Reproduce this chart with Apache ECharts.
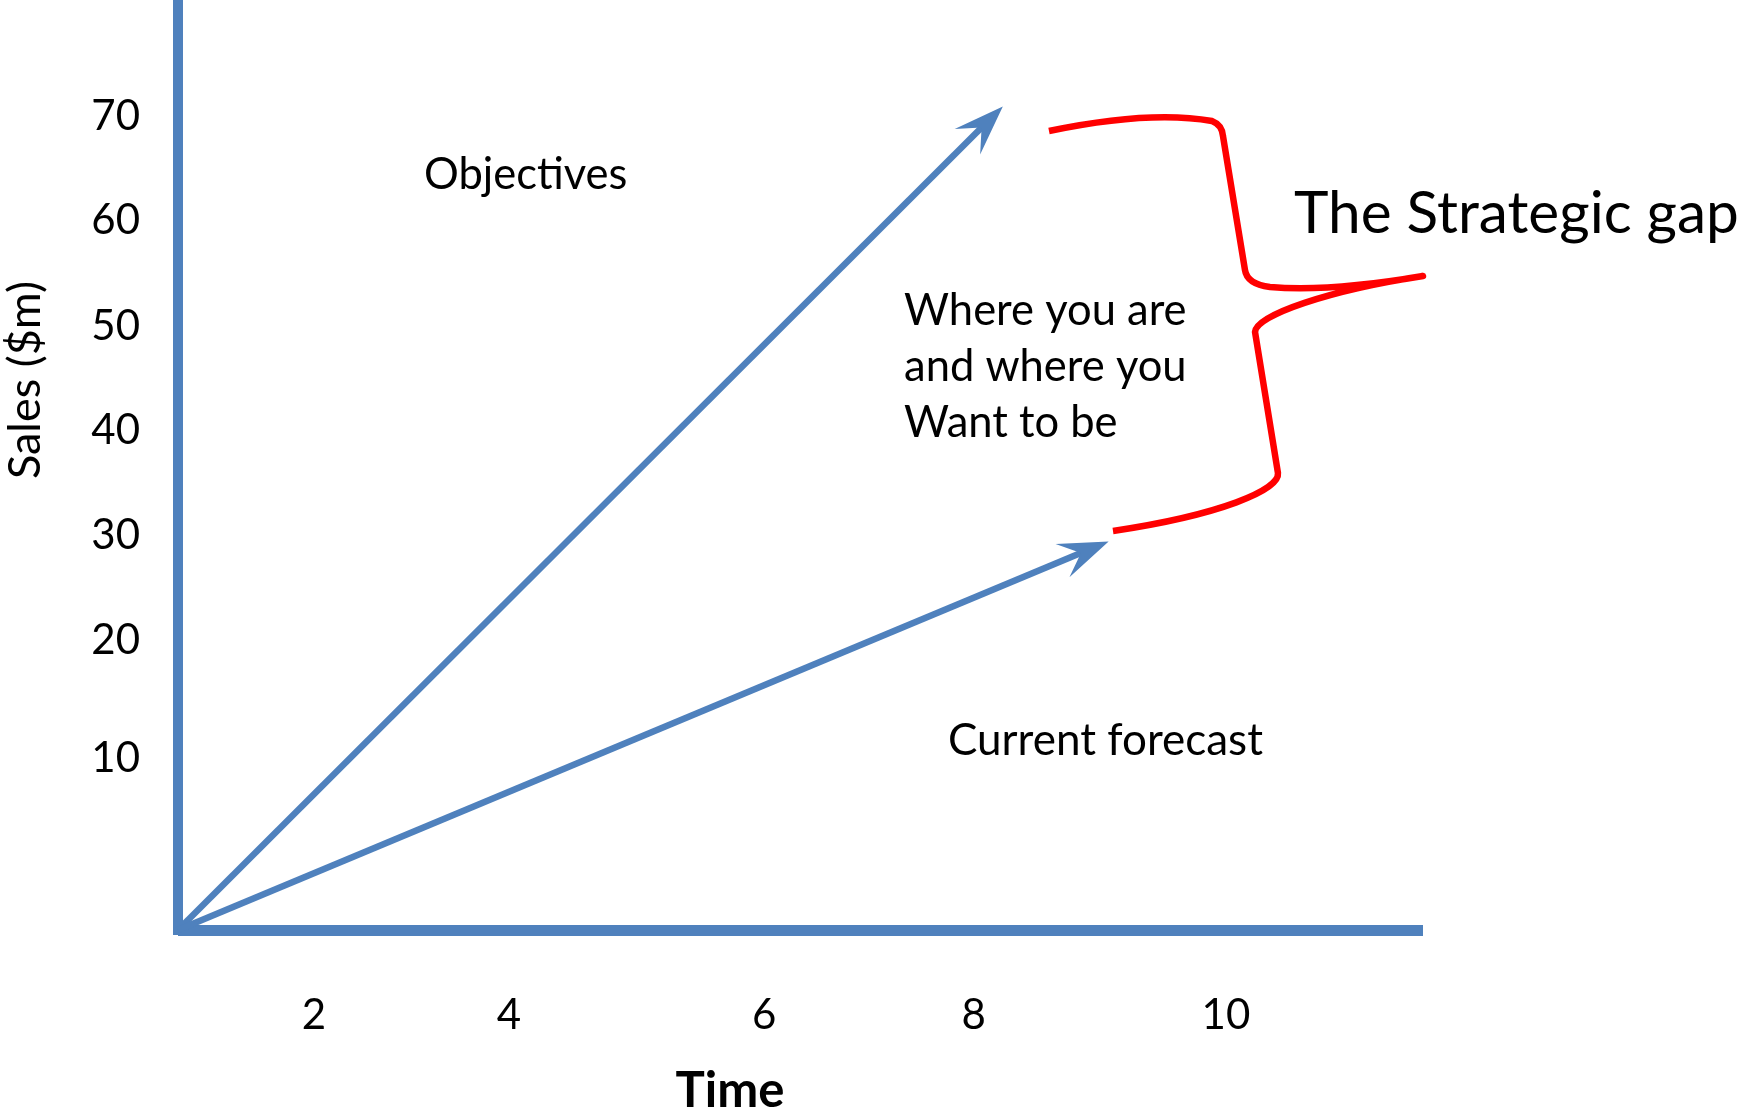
<!DOCTYPE html>
<html>
<head>
<meta charset="utf-8">
<title>The Strategic gap</title>
<script src="https://cdn.jsdelivr.net/npm/echarts@6/dist/echarts.min.js"></script>
<style>
  html, body { margin: 0; padding: 0; background: #ffffff; }
  #chart { width: 1737px; height: 1116px; }
</style>
</head>
<body>
<div id="chart"></div>
<script>
// Time axis labels and where each one sits along the axis
const xTickText = ['2', '4', '6', '8', '10'];
const xTickAt = [1.31, 3.19, 5.65, 7.67, 10.10];

// Sales axis labels ($m) and where each one sits along the axis
const yTickText = ['10', '20', '30', '40', '50', '60', '70'];
const yTickAt = [14.83, 25.0, 34.05, 43.1, 52.07, 61.2, 70.17];

// Trajectories: start and end as [time, sales]
const objectivesPath = [[0, 0], [7.95, 71.0]];
const forecastPath = [[0, 0], [8.97, 33.5]];

// Curly brace spanning the gap, as path commands in [time, sales] units
const gapBrace = [
  ['M', [8.395, 68.88]],
  ['Q', [9.369, 70.69], [9.966, 69.74]],
  ['Q', [10.063, 69.40], [10.072, 68.45]],
  ['L', [10.284, 56.90]],
  ['Q', [10.304, 55.69], [10.525, 55.43]],
  ['Q', [11.104, 55.0], [12.0, 56.38]],
  ['C', [11.104, 55.17], [10.390, 53.02], [10.381, 51.55]],
  ['L', [10.602, 39.40]],
  ['C', [10.622, 37.93], [10.043, 35.78], [9.012, 34.40]]
];

// Annotation texts
const noteText = [
  'Objectives',
  'Where you are\nand where you\nWant to be',
  'Current forecast',
  'The Strategic gap'
];

const BLUE = '#4F81BD';
const RED = '#FF0000';
const INK = '#000000';
const FONT = 'Lato, "Open Sans", sans-serif';

function labelFor(v, at, text) {
  let best = 0;
  for (let i = 1; i < at.length; i++) {
    if (Math.abs(at[i] - v) < Math.abs(at[best] - v)) best = i;
  }
  return text[best];
}

// Straight shaft with a notched arrow head at the far end
function renderArrow(params, api) {
  const p0 = api.coord([api.value(0), api.value(1)]);
  const p1 = api.coord([api.value(2), api.value(3)]);
  const dx = p1[0] - p0[0], dy = p1[1] - p0[1];
  const len = Math.hypot(dx, dy);
  const ux = dx / len, uy = dy / len;
  const nx = -uy, ny = ux;
  const headLen = 50, headHalf = 18, notchAt = 0.6;
  const back = [p1[0] - ux * headLen, p1[1] - uy * headLen];
  const notch = [p1[0] - ux * headLen * notchAt, p1[1] - uy * headLen * notchAt];
  const shaftEnd = [p1[0] - ux * headLen * 0.5, p1[1] - uy * headLen * 0.5];
  return {
    type: 'group',
    children: [
      {
        type: 'line',
        shape: { x1: p0[0], y1: p0[1], x2: shaftEnd[0], y2: shaftEnd[1] },
        style: { stroke: BLUE, lineWidth: 6.5, lineCap: 'butt' }
      },
      {
        type: 'polygon',
        shape: {
          points: [
            p1,
            [back[0] + nx * headHalf, back[1] + ny * headHalf],
            notch,
            [back[0] - nx * headHalf, back[1] - ny * headHalf]
          ]
        },
        style: { fill: BLUE }
      }
    ]
  };
}

// Brace outline converted from data units to pixels
function renderBrace(params, api) {
  let d = '';
  gapBrace.forEach(function (cmd) {
    d += cmd[0];
    for (let i = 1; i < cmd.length; i++) {
      const p = api.coord(cmd[i]);
      d += ' ' + p[0].toFixed(2) + ' ' + p[1].toFixed(2);
    }
    d += ' ';
  });
  return {
    type: 'path',
    shape: { pathData: d },
    style: { stroke: RED, fill: null, lineWidth: 6.5, lineCap: 'butt', lineJoin: 'round' }
  };
}

const noteAt = [
  [2.371, 65.09],
  [6.998, 48.53],
  [7.422, 16.29],
  [10.757, 61.68]
];
const noteSize = [43.5, 43.5, 44, 58.5];

const chart = echarts.init(document.getElementById('chart'), null, { renderer: 'canvas' });

chart.setOption({
  backgroundColor: '#ffffff',
  animation: false,
  grid: {
    left: 178, top: 2, right: 314, bottom: 186,
    containLabel: false,
    outerBoundsMode: 'none'
  },
  xAxis: {
    type: 'value',
    min: 0, max: 12,
    name: 'Time',
    nameLocation: 'middle',
    nameGap: 137,
    nameTextStyle: {
      fontFamily: FONT, fontSize: 49, fontWeight: 'bold', color: INK,
      lineHeight: 49, padding: [0, 141, 0, 0]
    },
    axisLine: { show: true, onZero: true, lineStyle: { color: BLUE, width: 11, cap: 'butt' } },
    axisTick: { show: false },
    splitLine: { show: false },
    axisLabel: {
      show: true,
      customValues: xTickAt,
      formatter: function (v) { return labelFor(v, xTickAt, xTickText); },
      margin: 64,
      fontFamily: FONT, fontSize: 42, lineHeight: 42, color: INK
    }
  },
  yAxis: {
    type: 'value',
    min: 0, max: 80,
    name: 'Sales ($m)',
    nameLocation: 'middle',
    nameGap: 130,
    nameTextStyle: {
      fontFamily: FONT, fontSize: 45, color: INK,
      lineHeight: 45, padding: [0, 0, 0, 172]
    },
    axisLine: { show: true, onZero: true, lineStyle: { color: BLUE, width: 10, cap: 'square' } },
    axisTick: { show: false },
    splitLine: { show: false },
    axisLabel: {
      show: true,
      customValues: yTickAt,
      formatter: function (v) { return labelFor(v, yTickAt, yTickText); },
      margin: 38,
      fontFamily: FONT, fontSize: 42, lineHeight: 42, color: INK
    }
  },
  series: [
    {
      name: 'Trajectories',
      type: 'custom',
      clip: false,
      silent: true,
      renderItem: renderArrow,
      encode: { x: [0, 2], y: [1, 3] },
      data: [
        objectivesPath[0].concat(objectivesPath[1]),
        forecastPath[0].concat(forecastPath[1])
      ]
    },
    {
      name: 'Gap',
      type: 'custom',
      clip: false,
      silent: true,
      renderItem: renderBrace,
      data: [[0]]
    },
    {
      name: 'Notes',
      type: 'scatter',
      clip: false,
      silent: true,
      symbolSize: 0,
      itemStyle: { color: INK, opacity: 1 },
      label: {
        show: true,
        position: [0, 0],
        align: 'left',
        verticalAlign: 'middle',
        color: INK,
        opacity: 1,
        fontFamily: FONT
      },
      data: noteText.map(function (t, i) {
        return {
          value: noteAt[i],
          label: {
            formatter: t,
            color: INK,
            opacity: 1,
            fontSize: noteSize[i],
            lineHeight: i === 1 ? 56 : noteSize[i]
          }
        };
      })
    }
  ]
});
</script>
</body>
</html>
